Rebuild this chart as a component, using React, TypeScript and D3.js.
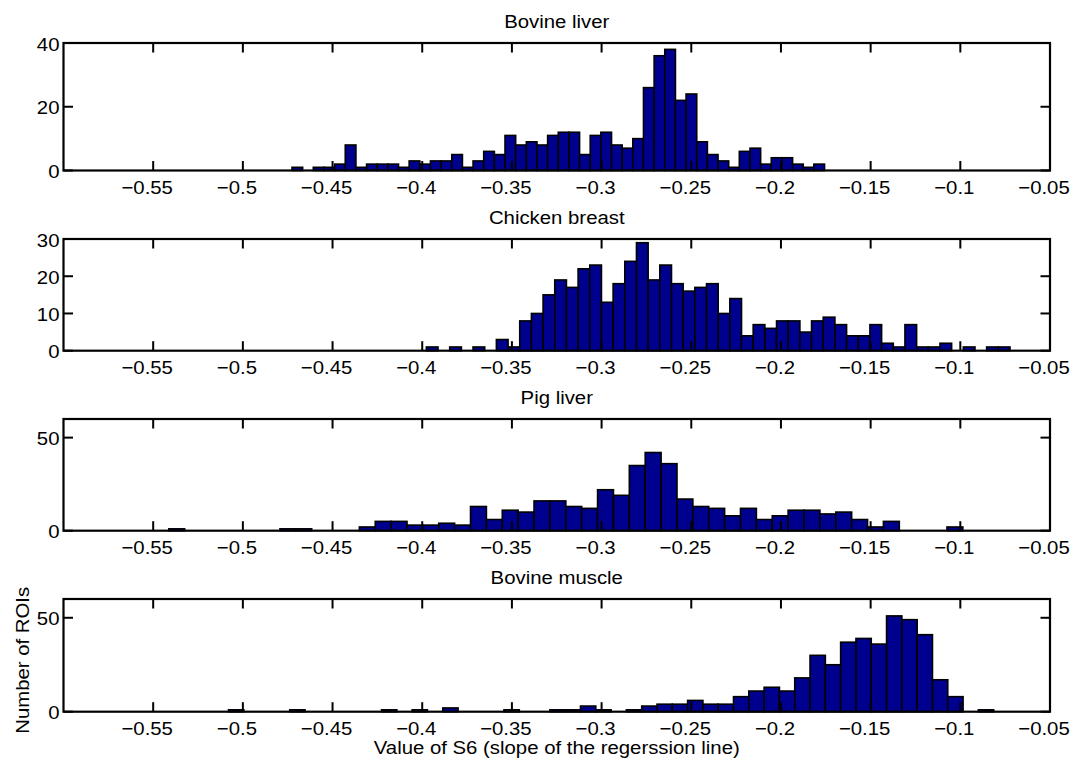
import React from "react";
import * as d3 from "d3";

// ---------- data ----------
const xDomain: [number, number] = [-0.6, -0.05];
const xTickValues = [-0.55, -0.5, -0.45, -0.4, -0.35, -0.3, -0.25, -0.2, -0.15, -0.1, -0.05];

const panelTitles = ["Bovine liver", "Chicken breast", "Pig liver", "Bovine muscle"];

const bovineLiverCounts = [
  1, 0, 1, 1, 2, 8, 1, 2, 2, 2, 1, 3, 2, 3, 3, 5, 1, 3, 6, 5, 11, 8, 9, 8, 11,
  12, 12, 5, 11, 12, 8, 7, 10, 26, 36, 38, 22, 24, 9, 5, 3, 1, 6, 7, 2, 4, 4, 2, 1, 2,
];
const chickenBreastCounts = [
  1, 0, 1, 0, 1, 0, 3, 1, 8, 10, 15, 19, 17, 22, 23, 13, 18, 24, 29, 19, 23, 18, 16, 17, 18,
  10, 14, 4, 7, 6, 8, 8, 5, 8, 9, 7, 4, 4, 7, 2, 1, 7, 1, 1, 2, 0, 1, 0, 1, 1,
];
const pigLiverCounts = [
  1, 0, 0, 0, 0, 0, 0, 1, 1, 0, 0, 0, 2, 5, 5, 3, 3, 4, 3, 13, 6, 11, 10, 16, 16,
  13, 12, 22, 19, 35, 42, 36, 17, 13, 12, 8, 12, 6, 8, 11, 11, 9, 10, 6, 2, 5, 0, 0, 0, 2,
];
const bovineMuscleCounts = [
  1, 0, 0, 0, 1, 0, 0, 0, 0, 0, 1, 0, 1, 0, 2, 0, 0, 0, 1, 0, 0, 1, 1, 3, 1,
  0, 1, 3, 4, 4, 6, 4, 4, 8, 11, 13, 11, 18, 30, 25, 37, 39, 36, 51, 49, 41, 17, 8, 0, 1,
];

// first-bin left edge and last-bin right edge of each histogram
const binRanges: [number, number][] = [
  [-0.4726, -0.1757],
  [-0.3977, -0.0723],
  [-0.5413, -0.0986],
  [-0.508, -0.0814],
];
const yMaxes = [40, 30, 60, 60];
const yTickValues = [[0, 20, 40], [0, 10, 20, 30], [0, 50], [0, 50]];

const xAxisLabel = "Value of S6 (slope of the regerssion line)";
const yAxisLabel = "Number of ROIs";

const allCounts = [bovineLiverCounts, chickenBreastCounts, pigLiverCounts, bovineMuscleCounts];

// ---------- layout ----------
const W = 1079;
const H = 761;
const LEFT = 63.5;
const RIGHT = 1050;
const panelBoxes: [number, number][] = [
  [43, 170.5],
  [239, 350.7],
  [419, 530.7],
  [599, 711.7],
];
const FONT = "'Liberation Sans', Arial, Helvetica, sans-serif";
const FS = 18.5;
const SX = 1.1;
const BAR_FILL = "#00008F";
const TICK = 9.5;

const fmt = (v: number) => String(+v.toFixed(3)).replace("-", "\u2212");

function Txt(props: { x: number; y: number; anchor?: string; rotate?: number; children: React.ReactNode }) {
  const { x, y, anchor = "middle", rotate = 0, children } = props;
  return (
    <text
      transform={`translate(${x},${y}) rotate(${rotate}) scale(${SX},1)`}
      textAnchor={anchor}
      fontFamily={FONT}
      fontSize={FS}
      fill="#000"
    >
      {children}
    </text>
  );
}

function Panel({ idx }: { idx: number }) {
  const [top, bottom] = panelBoxes[idx];
  const x = d3.scaleLinear().domain(xDomain).range([LEFT, RIGHT]);
  const y = d3.scaleLinear().domain([0, yMaxes[idx]]).range([bottom, top]);
  const counts = allCounts[idx];
  const [b0, b1] = binRanges[idx];
  const bw = (b1 - b0) / counts.length;
  return (
    <g>
      <Txt x={(LEFT + RIGHT) / 2} y={top - 15.5}>{panelTitles[idx]}</Txt>
      {counts.map((c, i) => {
        const x0 = x(b0 + i * bw);
        const x1 = x(b0 + (i + 1) * bw);
        return (
          <rect
            key={i}
            x={x0}
            y={y(c)}
            width={x1 - x0}
            height={y(0) - y(c)}
            fill={BAR_FILL}
            stroke="#000"
            strokeWidth={1.6}
          />
        );
      })}
      {xTickValues.map((t) => (
        <g key={"xt" + t}>
          <line x1={x(t)} x2={x(t)} y1={bottom} y2={bottom - TICK} stroke="#000" strokeWidth={2} />
          <line x1={x(t)} x2={x(t)} y1={top} y2={top + TICK} stroke="#000" strokeWidth={2} />
          <Txt x={x(t) - 6} y={bottom + 23}>{fmt(t)}</Txt>
        </g>
      ))}
      {yTickValues[idx].map((t) => (
        <g key={"yt" + t}>
          <line x1={LEFT} x2={LEFT + TICK} y1={y(t)} y2={y(t)} stroke="#000" strokeWidth={2} />
          <line x1={RIGHT} x2={RIGHT - TICK} y1={y(t)} y2={y(t)} stroke="#000" strokeWidth={2} />
          <Txt x={59.5} y={y(t) + 7.5} anchor="end">{fmt(t)}</Txt>
        </g>
      ))}
      <rect x={LEFT} y={top} width={RIGHT - LEFT} height={bottom - top} fill="none" stroke="#000" strokeWidth={2.2} />
    </g>
  );
}

export default function App() {
  const p4 = panelBoxes[3];
  return (
    <svg width={W} height={H} style={{ display: "block", position: "absolute", left: 0, top: 0, background: "#fff" }}>
      <rect x={0} y={0} width={W} height={H} fill="#fff" />
      {panelTitles.map((_, i) => (
        <Panel key={i} idx={i} />
      ))}
      <Txt x={(LEFT + RIGHT) / 2} y={754}>{xAxisLabel}</Txt>
      <Txt x={28.5} y={(p4[0] + p4[1]) / 2 + 5} rotate={-90}>{yAxisLabel}</Txt>
    </svg>
  );
}
